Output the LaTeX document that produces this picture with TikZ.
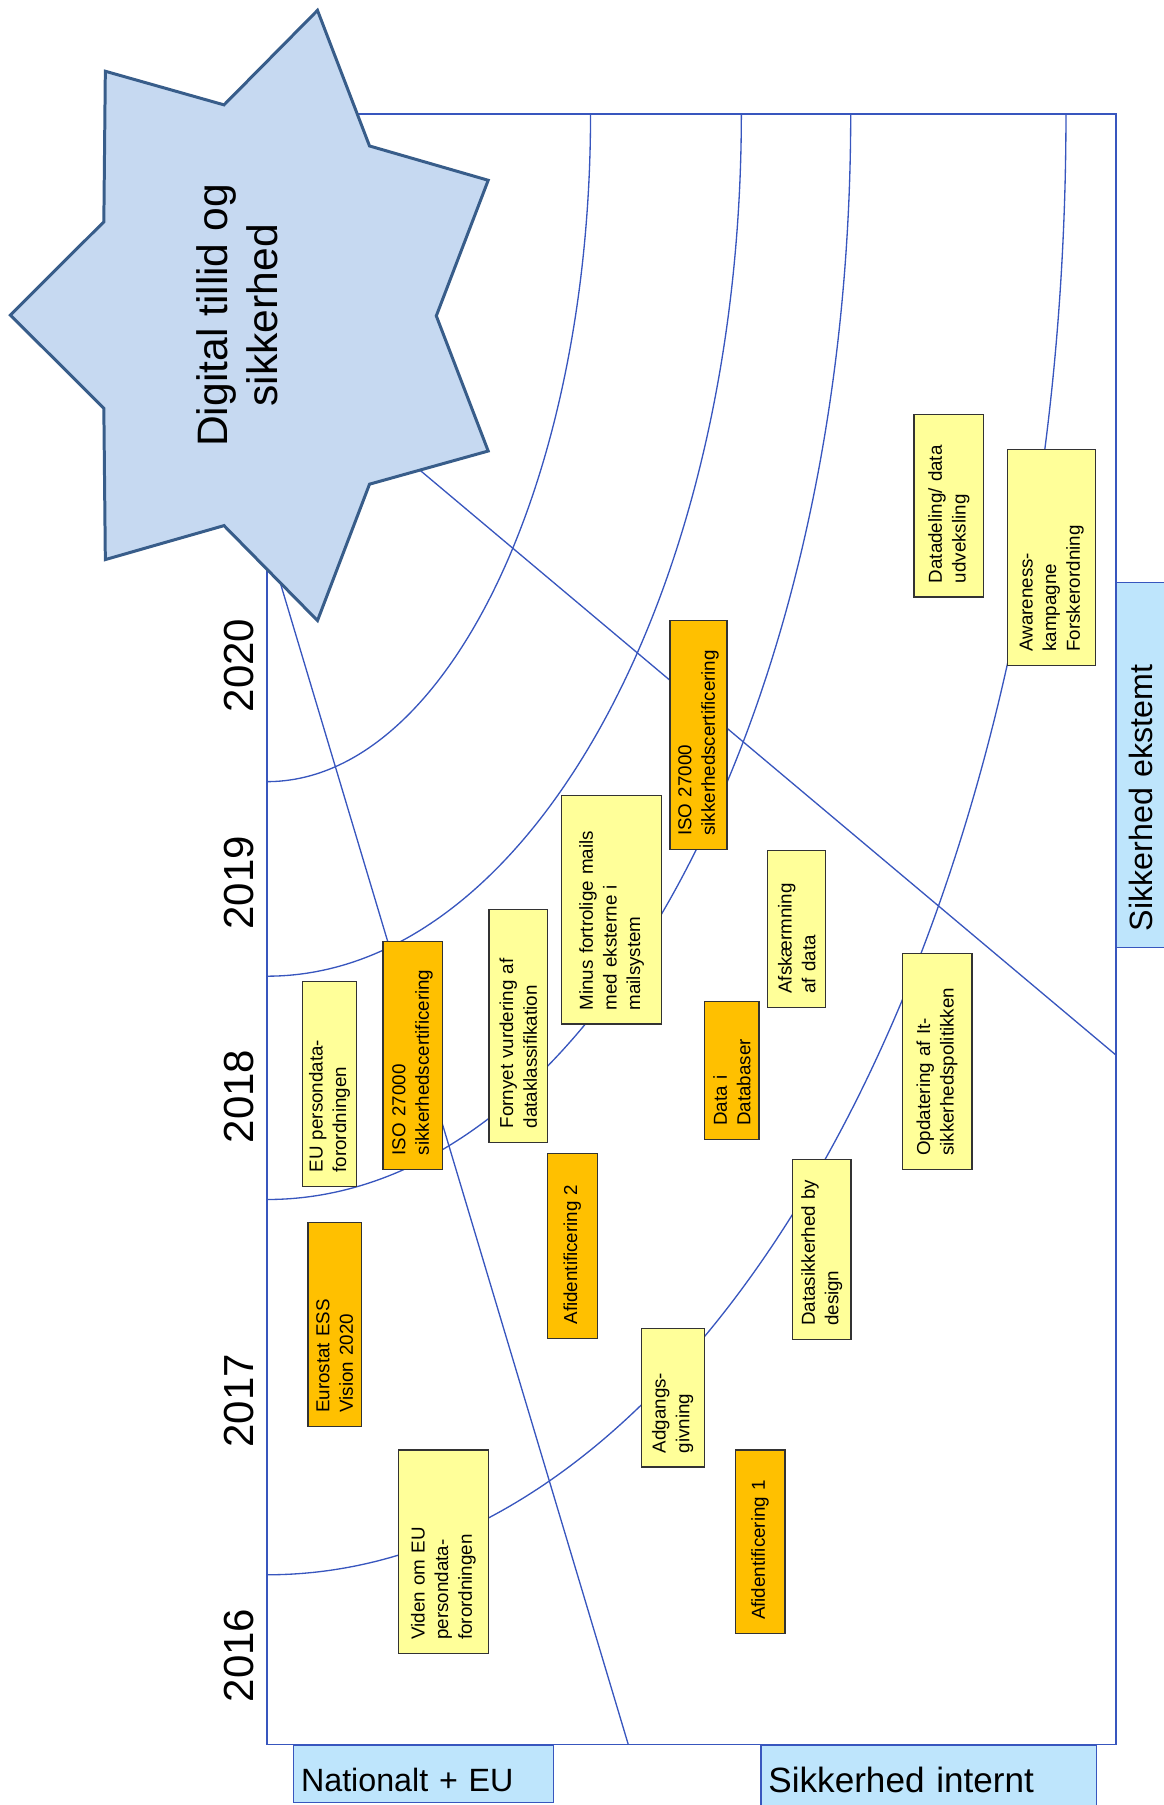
\documentclass[tikz,border=0pt]{standalone}
\usepackage{fontspec}
\setmainfont{Liberation Sans}
\definecolor{lineblue}{RGB}{56,86,190}
\definecolor{starfill}{RGB}{198,217,241}
\definecolor{stardraw}{RGB}{56,93,138}
\definecolor{paleyellow}{RGB}{255,255,153}
\definecolor{amber}{RGB}{255,192,0}
\definecolor{laneblue}{RGB}{190,229,252}
\tikzset{
  card/.style={draw=black!80, line width=1pt, rotate=90, align=left, inner xsep=12pt, inner ysep=2pt, font=\fontsize{16.3}{20.5}\selectfont},
  yellowcard/.style={card, fill=paleyellow},
  orangecard/.style={card, fill=amber},
  year/.style={rotate=90, font=\fontsize{36.5}{40}\selectfont},
  lane/.style={draw=lineblue, fill=laneblue, line width=1.1pt, anchor=north west, align=left, inner xsep=6.4pt, inner ysep=0pt},
  guide/.style={lineblue, line width=1.15pt}
}
\begin{document}
\begin{tikzpicture}[x=1pt, y=-1pt]
\useasboundingbox (0,0) rectangle (1010.3,1568);
% quarter ellipses round the corner
\draw[guide] (232,679) arc[start angle=270, end angle=360, x radius=281pt, y radius=580pt];
\draw[guide] (232,848) arc[start angle=270, end angle=360, x radius=412pt, y radius=749pt];
\draw[guide] (232,1042) arc[start angle=270, end angle=360, x radius=507pt, y radius=943pt];
\draw[guide] (232,1368) arc[start angle=270, end angle=360, x radius=694pt, y radius=1269pt];
% dividing lines
\coordinate (l1a) at (232,468);
\coordinate (l1b) at (545.8,1515.5);
\coordinate (l2a) at (300,354);
\coordinate (l2b) at (969.5,916.6);
\draw[guide] (l1a) -- (l1b);
\draw[guide] (l2a) -- (l2b);
\draw[guide] (232,99) rectangle (969.5,1515.5);
% star
\draw[stardraw, fill=starfill, line width=2.6pt, line join=miter] (275.8,9) -- (321,126.8) -- (424.1,156.6) -- (379,274.4) -- (424.1,391.8) -- (321,420.6) -- (275.8,539.1) -- (194.6,456.6) -- (91.5,486.1) -- (90.2,354.7) -- (9,273.7) -- (90.2,192.7) -- (91.5,61.9) -- (194.6,91.1) -- cycle;
\node[rotate=90, align=center, font=\fontsize{37}{43}\selectfont] (title) at (206,274) {Digital tillid og\\sikkerhed};
% years
\foreach \yr/\ypos in {2016/1438, 2017/1217, 2018/952.5, 2019/767, 2020/578}
  \node[year] (y\yr) at (208,\ypos) {\yr};
% cards
\node[yellowcard, minimum width=158.5pt, minimum height=60.6pt, text width=134.5pt] (datadeling) at (824.3,439.3) {Datadeling/ data\\udveksling};
\node[yellowcard, minimum width=187.4pt, minimum height=76.7pt, text width=163.4pt] (awareness) at (913.6,484.4) {Awareness-\\kampagne\\Forskerordning};
\node[orangecard, minimum width=198.8pt, minimum height=49.6pt, text width=174.8pt] (isoB) at (606.8,638.6) {ISO 27000\\sikkerhedscertificering};
\node[yellowcard, minimum width=198.4pt, minimum height=87pt, text width=174.4pt] (mails) at (531.4,790.4) {Minus fortrolige mails\\med eksterne i\\mailsystem};
\node[yellowcard, minimum width=136.2pt, minimum height=50.3pt, text width=112.2pt] (afskaerm) at (692.2,807.1) {Afskærmning\\af data};
\node[yellowcard, minimum width=202pt, minimum height=50.9pt, text width=178pt] (fornyet) at (450.2,891.2) {Fornyet vurdering af\\dataklassifikation};
\node[orangecard, minimum width=198pt, minimum height=51.5pt, text width=174pt] (isoA) at (358.4,916.6) {ISO 27000\\sikkerhedscertificering};
\node[yellowcard, minimum width=177.5pt, minimum height=46.4pt, text width=153.5pt] (eupd) at (286.2,941.7) {EU persondata-\\forordningen};
\node[orangecard, minimum width=120.2pt, minimum height=47pt, text width=96.2pt] (databaser) at (635.8,929.9) {Data i\\Databaser};
\node[yellowcard, minimum width=187.6pt, minimum height=60.6pt, text width=163.6pt] (opdatering) at (814,922.2) {Opdatering af It-\\sikkerhedspolitikken};
\node[orangecard, minimum width=160.5pt, minimum height=43.2pt, text width=136.5pt] (afidB) at (497.2,1082.2) {Afidentificering 2};
\node[yellowcard, minimum width=156.7pt, minimum height=50.9pt, text width=132.7pt] (design) at (713.8,1085.4) {Datasikkerhed by\\design};
\node[orangecard, minimum width=177.4pt, minimum height=46.4pt, text width=153.4pt] (eurostat) at (290.7,1150.5) {Eurostat ESS\\Vision 2020};
\node[yellowcard, minimum width=120.4pt, minimum height=54.7pt, text width=96.4pt] (adgang) at (584.3,1214.2) {Adgangs-\\givning};
\node[yellowcard, minimum width=176.7pt, minimum height=78pt, text width=152.7pt] (viden) at (385.1,1348) {Viden om EU\\persondata-\\forordningen};
\node[orangecard, minimum width=159.6pt, minimum height=43.2pt, text width=135.6pt] (afidA) at (660.3,1339.4) {Afidentificering 1};
% lanes
\node[lane, minimum width=225.4pt, minimum height=49pt, text width=212.6pt, text height=31pt, text depth=0pt, font=\fontsize{28}{32}\selectfont] (national) at (254.6,1516) {Nationalt + EU};
\node[lane, minimum width=291.2pt, minimum height=53pt, text width=278.4pt, text height=28pt, text depth=0pt, font=\fontsize{30.5}{34}\selectfont] (internt) at (660.6,1516) {Sikkerhed internt};
\node[lane, anchor=center, rotate=90, minimum width=317pt, minimum height=42pt, inner xsep=14pt, text width=289pt, font=\fontsize{28}{32}\selectfont] (eksternt) at (991,664.5) {Sikkerhed ekstemt};
\end{tikzpicture}
\end{document}
